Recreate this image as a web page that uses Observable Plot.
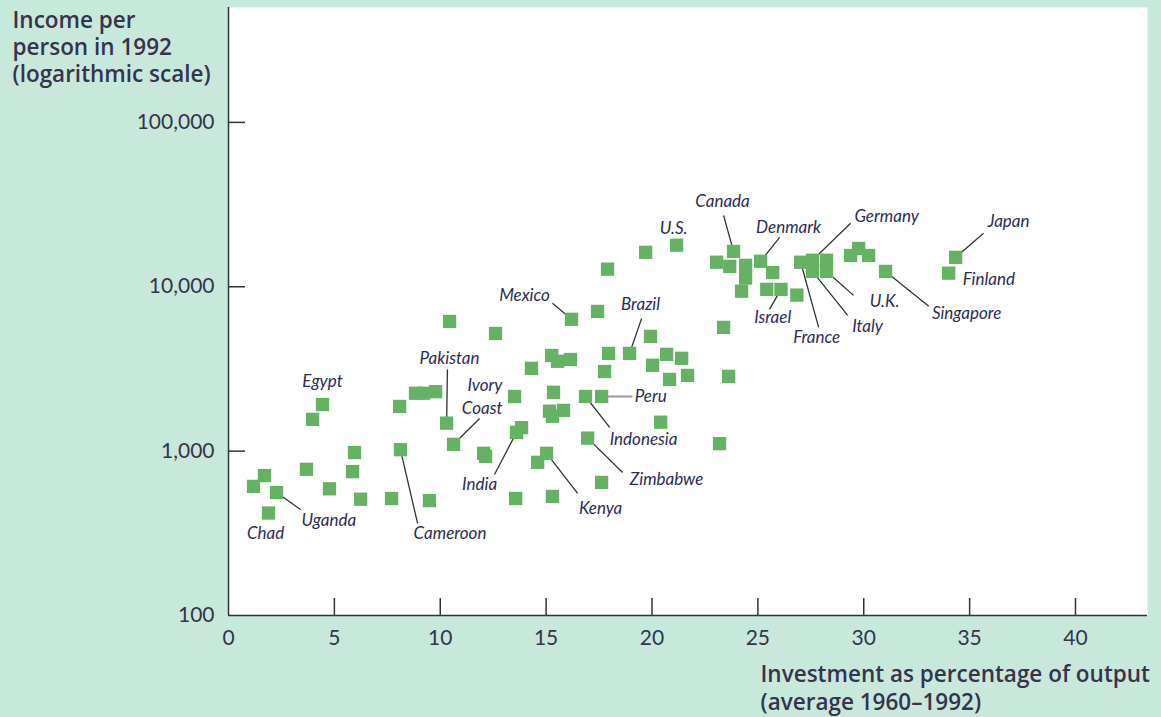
<!DOCTYPE html>
<html>
<head>
<meta charset="utf-8">
<script src="https://cdn.jsdelivr.net/npm/d3@7"></script>
<script src="https://cdn.jsdelivr.net/npm/@observablehq/plot@0.6"></script>
<style>
  html, body { margin: 0; padding: 0; background: #c9e8dc; }
  #chart svg { display: block; }
</style>
</head>
<body>
<div id="chart"></div>
<script>
// ---- Data ----
// Investment as % of output (avg 1960–1992)
const investment = [
  4.44, 3.97, 5.95, 3.68, 5.86, 1.70, 1.18, 2.27, 4.77, 6.24,
  7.70, 9.49, 1.89, 8.08, 8.83, 9.21, 9.78, 10.30, 8.12, 10.63,
  10.44, 12.61, 16.20, 17.43, 19.93, 17.95, 18.94, 20.69, 21.40, 20.03,
  17.76, 21.68, 20.83, 15.26, 15.54, 16.15, 14.31, 15.35, 13.51, 16.86,
  17.62, 15.16, 15.82, 15.30, 13.84, 13.60, 20.41, 16.96, 12.05, 12.14,
  15.02, 14.60, 17.62, 13.56, 15.30, 23.38, 23.62, 23.19, 21.16, 19.70,
  17.90, 23.85, 23.05, 23.67, 24.42, 24.42, 24.23, 25.13, 25.70, 25.42,
  26.09, 26.84, 27.02, 27.58, 28.24, 27.58, 28.24, 29.38, 29.76, 30.23,
  31.03, 34.34, 34.01
];
// Income per person in 1992
const income = [
  1920, 1560, 980, 775, 750, 710, 610, 560, 590, 510,
  515, 500, 420, 1870, 2250, 2250, 2300, 1480, 1020, 1100,
  6150, 5200, 6340, 7080, 4990, 3930, 3930, 3880, 3670, 3330,
  3050, 2890, 2730, 3820, 3520, 3610, 3190, 2280, 2150, 2150,
  2150, 1750, 1770, 1630, 1390, 1300, 1500, 1200, 970, 930,
  970, 855, 645, 515, 530, 5660, 2850, 1110, 17900, 16200,
  12800, 16400, 14100, 13300, 13500, 11300, 9400, 14300, 12200, 9640,
  9640, 8900, 14100, 14500, 14500, 12400, 12400, 15500, 17100, 15500,
  12400, 15100, 12100
];
// Country names (only for the labelled points)
const country = [
  "Egypt", "", "", "", "", "", "", "Uganda", "", "",
  "", "", "Chad", "", "", "", "", "Pakistan", "Cameroon", "Ivory Coast",
  "", "", "Mexico", "", "", "", "Brazil", "", "", "",
  "", "", "", "", "", "", "", "", "", "Indonesia",
  "Peru", "", "", "", "", "India", "", "Zimbabwe", "", "",
  "Kenya", "", "", "", "", "", "", "", "U.S.", "",
  "", "Canada", "", "", "", "", "", "Denmark", "", "",
  "Israel", "", "France", "Germany", "", "Italy", "U.K.", "", "", "",
  "Singapore", "Japan", "Finland"
];

const xTicks = [0, 5, 10, 15, 20, 25, 30, 35, 40];
const yTicks = [100, 1000, 10000, 100000];

// Annotation labels (positions in data units)
const labelName   = ["Chad","Uganda","Egypt","Pakistan","Ivory Coast","Cameroon","India","Kenya","Zimbabwe","Indonesia","Peru","Brazil","Mexico","U.S.","Canada","Denmark","Germany","Japan","Finland","Singapore","U.K.","Italy","France","Israel"];
const labelText   = ["Chad","Uganda","Egypt","Pakistan","Ivory\nCoast","Cameroon","India","Kenya","Zimbabwe","Indonesia","Peru","Brazil","Mexico","U.S.","Canada","Denmark","Germany","Japan","Finland","Singapore","U.K.","Italy","France","Israel"];
const labelX      = [1.75, 3.45, 4.44, 10.44, 12.94, 8.74, 11.86, 17.57, 20.69, 19.60, 19.18, 19.46, 13.98, 21.02, 23.33, 26.45, 31.08, 36.84, 34.67, 34.86, 30.99, 30.18, 27.78, 25.70];
const labelY      = [316, 378, 2656, 3666, 2198, 316, 627, 448, 673, 1178, 2153, 7816, 8863, 22670, 33100, 23000, 26840, 25000, 11090, 6887, 8148, 5742, 4921, 6515];
const labelAnchor = ["middle","start","middle","middle","end","start","middle","middle","middle","middle","start","middle","middle","middle","middle","middle","middle","middle","start","middle","middle","middle","middle","middle"];
// Leader line start (near the label); null = no leader
const leaderX     = [null, 3.40, null, 10.34, 11.86, 8.93, 12.56, 16.49, 18.61, 18.00, 19.08, 19.51, 15.30, null, 23.38, 26.03, 29.38, 35.66, null, 33.07, 29.52, 29.24, 27.87, 25.55];
const leaderY     = [null, 442, null, 3143, 1581, 363, 721, 553, 742, 1394, 2153, 6424, 7925, null, 27210, 19990, 24320, 21140, null, 7600, 8863, 6697, 5661, 7285];

// ---- Build tables ----
const points = investment.map((x, i) => ({x, y: income[i], name: country[i]}));
const byName = new Map(points.filter(d => d.name).map(d => [d.name, d]));
const labels = labelName.map((n, i) => ({
  name: n, text: labelText[i], x: labelX[i], y: labelY[i], anchor: labelAnchor[i],
  lx: leaderX[i], ly: leaderY[i], px: byName.get(n).x, py: byName.get(n).y
}));
const leaders = labels.filter(d => d.lx != null);

const W = 1161, H = 717;
const mL = 228, mR = 14, mT = 7, mB = 102;
const plotW = W - mL - mR, plotH = H - mT - mB;
const ink = "#35344c";
const labelInk = "#2c2c58";
const green = "#66b264";
const labelFont = {fontFamily: "Lato, 'Open Sans', sans-serif", fontStyle: "italic", fontSize: 17, fill: labelInk};
const titleFont = {fontFamily: "'Open Sans', Lato, sans-serif", fontSize: 22.5, fontWeight: 600, fill: ink};

const chart = Plot.plot({
  width: W, height: H,
  marginLeft: mL, marginRight: mR, marginTop: mT, marginBottom: mB,
  style: {background: "#c9e8dc", fontFamily: "Lato, 'Open Sans', sans-serif", color: ink},
  x: {domain: [0, 43.4]},
  y: {type: "log", domain: [100, 500000]},
  marks: [
    Plot.frame({fill: "white", stroke: null}),
    // inward tick marks
    Plot.ruleX(xTicks.filter(d => d > 0), {insetTop: plotH - 17, stroke: "#333", strokeWidth: 1.5}),
    Plot.ruleY(yTicks.filter(d => d > 100), {insetRight: plotW - 17, stroke: "#333", strokeWidth: 1.5}),
    // axis lines
    Plot.ruleX([0], {stroke: "#333", strokeWidth: 1.5}),
    Plot.ruleY([100], {stroke: "#333", strokeWidth: 1.5}),
    // leader lines
    Plot.link(leaders.filter(d => d.name !== "Peru"), {x1: "lx", y1: "ly", x2: "px", y2: "py", stroke: "#333", strokeWidth: 1.3}),
    Plot.link(leaders.filter(d => d.name === "Peru"), {x1: "lx", y1: "ly", x2: "px", y2: "py", stroke: "#9a9a9a", strokeWidth: 2}),
    // points
    Plot.dot(points, {x: "x", y: "y", symbol: "square", r: 7.5, fill: green, stroke: null}),
    // labels
    Plot.text(labels.filter(d => d.anchor === "middle"), {x: "x", y: "y", text: "text", textAnchor: "middle", ...labelFont}),
    Plot.text(labels.filter(d => d.anchor === "start"), {x: "x", y: "y", text: "text", textAnchor: "start", ...labelFont}),
    Plot.text(labels.filter(d => d.anchor === "end"), {x: "x", y: "y", text: "text", textAnchor: "end", lineHeight: 23 / 17, ...labelFont}),
    // axes
    Plot.axisX({ticks: xTicks, tickSize: 0, tickPadding: 15, fontSize: 21, label: null, tickFormat: d => String(d), fill: ink}),
    Plot.axisY({ticks: yTicks, tickSize: 0, tickPadding: 14, fontSize: 21, label: null, tickFormat: d3.format(","), fill: ink}),
    // axis titles
    Plot.text(["Income per\nperson in 1992\n(logarithmic scale)"], {
      text: d => d, frameAnchor: "top-left", dx: -216, dy: 1, textAnchor: "start", lineAnchor: "top",
      lineHeight: 27 / 22.5, ...titleFont
    }),
    Plot.text(["Investment as percentage of output\n(average 1960\u20131992)"], {
      text: d => d, frameAnchor: "bottom-left", dx: 532, dy: 47, textAnchor: "start", lineAnchor: "top",
      lineHeight: 28 / 22.5, ...titleFont
    })
  ]
});

document.getElementById("chart").appendChild(chart);
</script>
</body>
</html>
